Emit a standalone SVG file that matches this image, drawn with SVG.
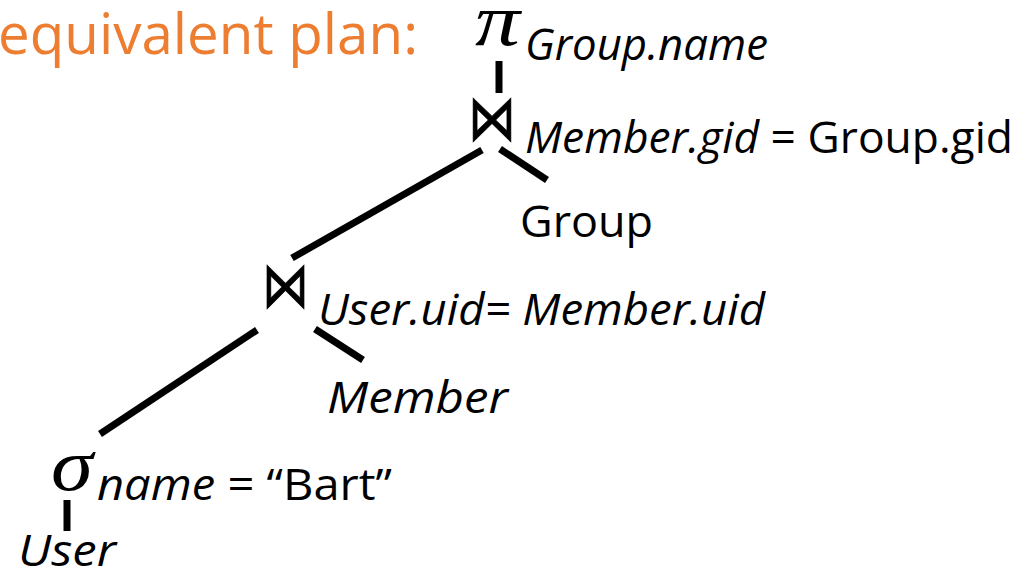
<svg xmlns="http://www.w3.org/2000/svg" width="1034" height="575" viewBox="0 0 1034 575">
  <style>
    .t { font-family: "Open Sans", "Noto Sans", "Liberation Sans", sans-serif; font-size: 44px; fill: #000; }
    .it { font-style: italic; }
    .up { font-style: normal; }
    .op { font-family: "Liberation Serif", "DejaVu Serif", serif; font-style: italic; font-size: 74px; fill: #000; }
    .join { font-family: "DejaVu Sans", sans-serif; font-size: 64px; fill: #000; stroke: #000; stroke-width: 0.8; }
    .edge { stroke: #000; stroke-width: 7; fill: none; stroke-linecap: butt; }
    .title { font-family: "Open Sans", "Noto Sans", sans-serif; font-size: 56px; fill: #ED7D31; }
  </style>
  <rect width="1034" height="575" fill="#fff"/>

  <text class="title" x="-2" y="54" textLength="420" lengthAdjust="spacingAndGlyphs">equivalent plan:</text>

  <!-- plan edges -->
  <g id="connectors">
    <line class="edge" x1="499" y1="61" x2="499" y2="93"/>
    <line class="edge" x1="482" y1="150" x2="292" y2="258"/>
    <line class="edge" x1="500" y1="149" x2="547" y2="180"/>
    <line class="edge" x1="257" y1="330" x2="100" y2="434"/>
    <line class="edge" x1="315" y1="329" x2="363" y2="360"/>
    <line class="edge" x1="67" y1="500" x2="67" y2="531"/>
  </g>

  <!-- projection -->
  <g id="project">
    <text class="op" x="475" y="45" textLength="45" lengthAdjust="spacingAndGlyphs">π</text>
    <text class="t it" x="525" y="60" textLength="243" lengthAdjust="spacingAndGlyphs">Group.name</text>
  </g>

  <!-- join on gid -->
  <g id="join-gid">
    <text class="join" x="468" y="140" textLength="48" lengthAdjust="spacingAndGlyphs">⋈</text>
    <text class="t" x="525" y="153" textLength="488" lengthAdjust="spacingAndGlyphs"><tspan class="it">Member.gid</tspan><tspan class="up"> = Group.gid</tspan></text>
  </g>

  <g id="group">
    <text class="t up" x="520" y="237" textLength="133" lengthAdjust="spacingAndGlyphs">Group</text>
  </g>

  <!-- join on uid -->
  <g id="join-uid">
    <text class="join" x="262" y="307" textLength="47" lengthAdjust="spacingAndGlyphs">⋈</text>
    <text class="t it" x="318" y="325" textLength="447" lengthAdjust="spacingAndGlyphs">User.uid= Member.uid</text>
  </g>

  <g id="member">
    <text class="t it" x="327" y="413" textLength="181" lengthAdjust="spacingAndGlyphs">Member</text>
  </g>

  <!-- selection -->
  <g id="select">
    <text class="op" x="51" y="490" textLength="42" lengthAdjust="spacingAndGlyphs">σ</text>
    <text class="t" x="97" y="500" textLength="295" lengthAdjust="spacingAndGlyphs"><tspan class="it">name</tspan><tspan class="up"> = “Bart”</tspan></text>
  </g>

  <g id="user">
    <text class="t it" x="18" y="566" textLength="98" lengthAdjust="spacingAndGlyphs">User</text>
  </g>
</svg>
